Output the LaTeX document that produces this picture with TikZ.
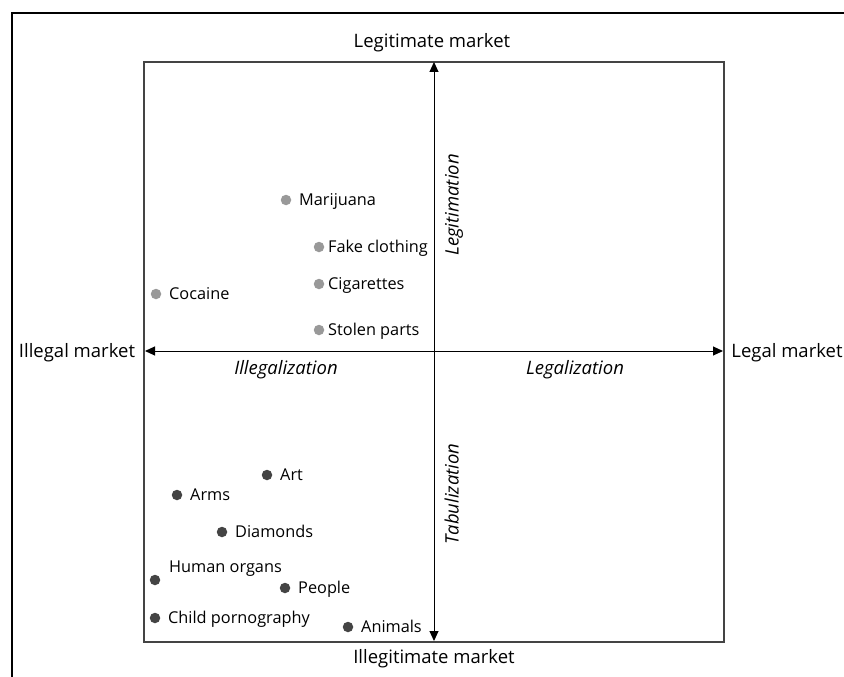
\documentclass[tikz,border=0pt]{standalone}
\usepackage{fontspec}
\setmainfont{Open Sans}
\usetikzlibrary{arrows.meta}
\definecolor{updot}{HTML}{999999}
\definecolor{lowdot}{HTML}{444444}
\definecolor{boxline}{HTML}{444444}
\begin{document}
\begin{tikzpicture}[x=1pt,y=-1pt,
  txt/.style={inner sep=0pt, font=\fontsize{18.5}{22}\selectfont, text height=13pt, text depth=0pt},
  itl/.style={txt, font=\fontsize{18.5}{22}\selectfont\itshape},
  lbl/.style={inner sep=0pt, font=\fontsize{16.3}{20}\selectfont, text height=11.5pt, text depth=0pt, anchor=west},
  udot/.style={circle, fill=updot, inner sep=0pt, minimum size=10.5pt},
  ldot/.style={circle, fill=lowdot, inner sep=0pt, minimum size=10.5pt},
  axis/.style={line width=1pt, -{Triangle[length=10pt,width=9pt]}}]
\useasboundingbox (0,0) rectangle (844,677);
% outer frame (only left and top visible)
\draw[line width=1.6pt] (12,700) -- (12,13) -- (870,13);
% inner box
\draw[boxline, line width=1.2pt] (144,62) rectangle (724,642);
% axes
\coordinate (vc) at (434,351);
\coordinate (vt) at (434,62);
\coordinate (vb) at (434,641);
\coordinate (hl) at (145,351);
\coordinate (hr) at (723,351);
\draw[axis] (vc) -- (vt);
\draw[axis] (vc) -- (vb);
\draw[axis] (vc) -- (hl);
\draw[axis] (vc) -- (hr);
% axis labels
\node[txt] (legit) at (432,41) {Legitimate market};
\node[txt] (illegit) at (434,657) {Illegitimate market};
\node[txt] (illegal) at (77,351) {Illegal market};
\node[txt] (legal) at (787,351) {Legal market};
\node[itl] (illegz) at (286,368) {Illegalization};
\node[itl] (legz) at (575,368) {Legalization};
\node[itl, rotate=90] (legitm) at (452,205) {Legitimation};
\node[itl, rotate=90] (tabul) at (452,494) {Tabulization};
% upper points
\node[udot] (d1) at (286,200) {};
\node[lbl] (l1) at (299,200) {Marijuana};
\node[udot] (d2) at (319,247) {};
\node[lbl] (l2) at (328,247) {Fake clothing};
\node[udot] (d3) at (319,284) {};
\node[lbl] (l3) at (328,284) {Cigarettes};
\node[udot] (d4) at (156,294) {};
\node[lbl] (l4) at (169,294) {Cocaine};
\node[udot] (d5) at (319,330) {};
\node[lbl] (l5) at (328,330) {Stolen parts};
% lower points
\node[ldot] (e1) at (267,475) {};
\node[lbl] (m1) at (280,475) {Art};
\node[ldot] (e2) at (177,495) {};
\node[lbl] (m2) at (190,495) {Arms};
\node[ldot] (e3) at (222,532) {};
\node[lbl] (m3) at (235,532) {Diamonds};
\node[ldot] (e4) at (155,580) {};
\node[lbl] (m4) at (169,567) {Human organs};
\node[ldot] (e5) at (285,588) {};
\node[lbl] (m5) at (298,588) {People};
\node[ldot] (e6) at (155,618) {};
\node[lbl] (m6) at (168,618) {Child pornography};
\node[ldot] (e7) at (348,627) {};
\node[lbl] (m7) at (361,627) {Animals};
\end{tikzpicture}
\end{document}
